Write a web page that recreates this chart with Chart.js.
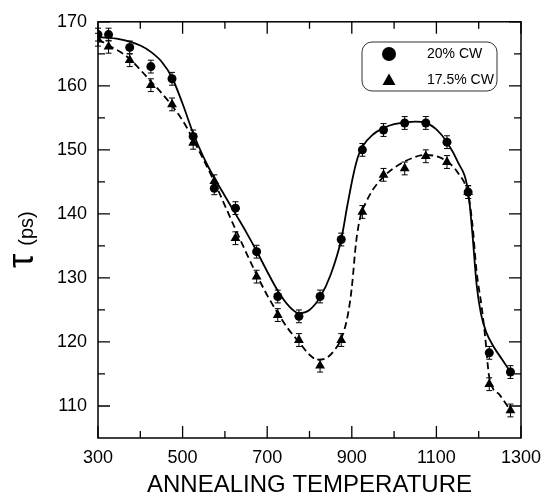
<!DOCTYPE html>
<html>
<head>
<meta charset="utf-8">
<script src="https://cdn.jsdelivr.net/npm/chart.js@4.4.1/dist/chart.umd.min.js"></script>
<style>
html,body{margin:0;padding:0;background:#fff;}
canvas{display:block;}
</style>
</head>
<body>
<canvas id="c" width="554" height="500"></canvas>
<script>
// ---- data ----
const temps = [300,325,375,425,475,525,575,625,675,725,775,825,875,925,975,1025,1075,1125,1175,1225,1275];
const cw20 = [168,168,166,163,161.1,152.1,144,140.9,134.1,127.1,124,127.1,136,150,153.1,154.2,154.2,151.2,143.4,118.3,115.3];
const cw175 = [167.2,166.1,164,160.1,157.1,151.1,145.1,136.2,130.2,124.2,120.3,116.3,120.3,140.3,146.1,147.1,149,148.1,143.4,113.4,109.3];
const err20 = [1,1,1,1,1,1,1,1,1,1,1,1,1,1,1,1,1,1,1,1,1];
const err175 = [1,1,1,1,1,1,1,1,1,1,1,1,1,1,1,1,1,1,1,1,1];

// fitted curves (knots)
const fit20T = [300,350,400,425,450,475,500,525,550,575,600,625,650,675,700,725,750,775,800,825,850,875,890,905,915,925,950,975,1000,1050,1075,1100,1125,1150,1175,1185,1195,1205,1218,1235,1255,1275];
const fit20V = [167.6,167.3,166.3,165.3,163.8,161.3,157.2,152.6,148.8,145.6,142.8,140,137.2,134.2,131,128,125.7,124.5,125,127,130.5,136,141.5,146.5,149,150.5,152.4,153.4,154,154.4,154.2,153.2,151.2,148.2,143.5,137,129,124.5,121.5,119.3,117.3,115.3];
const fit175T = [300,325,350,375,400,425,450,475,500,525,550,575,600,625,650,675,700,725,750,775,800,820,840,860,875,890,900,910,920,935,950,975,1000,1050,1075,1100,1125,1150,1175,1185,1195,1207,1215,1225,1250,1275];
const fit175V = [167.3,166.3,165.4,164.2,162.5,160.7,158.9,156.9,154.6,151.6,148.4,145,141.3,137.6,134,130.5,127.3,124.5,122,120,118,117.2,117.5,118.8,120.5,124,128.5,135.5,139.5,142,143.8,145.8,147.2,148.9,149.2,149,148.2,146.5,143,138.5,131,125.5,121,114.5,111.7,109.3];

const xTickLabels = [300,500,700,900,1100,1300];
const xMinorTicks = [400,600,800,1000,1200];
const yTickLabels = [110,120,130,140,150,160,170];
const yMinorTicks = [115,125,135,145,155,165];
const seriesNames = ['20% CW','17.5% CW'];
const xTitle = 'ANNEALING TEMPERATURE';
const yTitleSym = 'τ';
const yTitleUnit = '(ps)';

const FONT = "'Liberation Sans', Arial, sans-serif";
const toXY = (xs, ys) => xs.map((x, i) => ({x: x, y: ys[i]}));

const decor = {
  id: 'decor',
  afterDatasetsDraw(chart) {
    const ctx = chart.ctx, xs = chart.scales.x, ys = chart.scales.y;
    const a = chart.chartArea;
    ctx.save();
    ctx.strokeStyle = '#000';
    // error bars
    ctx.lineWidth = 1;
    const drawErr = (vals, errs) => {
      vals.forEach((v, i) => {
        const px = xs.getPixelForValue(temps[i]);
        const pt = ys.getPixelForValue(v + errs[i]);
        const pb = ys.getPixelForValue(v - errs[i]);
        ctx.beginPath();
        ctx.moveTo(px, pt); ctx.lineTo(px, pb);
        ctx.moveTo(px - 3, pt); ctx.lineTo(px + 3, pt);
        ctx.moveTo(px - 3, pb); ctx.lineTo(px + 3, pb);
        ctx.stroke();
      });
    };
    drawErr(cw20, err20);
    drawErr(cw175, err175);
    // frame
    ctx.lineWidth = 1.5;
    ctx.strokeRect(a.left, a.top, a.right - a.left, a.bottom - a.top);
    // ticks (inward)
    ctx.lineWidth = 1.3;
    const xt = (v, len) => {
      const p = xs.getPixelForValue(v);
      ctx.beginPath();
      ctx.moveTo(p, a.bottom); ctx.lineTo(p, a.bottom - len);
      ctx.moveTo(p, a.top); ctx.lineTo(p, a.top + len);
      ctx.stroke();
    };
    const yt = (v, len) => {
      const p = ys.getPixelForValue(v);
      ctx.beginPath();
      ctx.moveTo(a.left, p); ctx.lineTo(a.left + len, p);
      ctx.moveTo(a.right, p); ctx.lineTo(a.right - len, p);
      ctx.stroke();
    };
    xTickLabels.forEach(v => xt(v, 12));
    xMinorTicks.forEach(v => xt(v, 7));
    yTickLabels.forEach(v => yt(v, 12));
    yMinorTicks.forEach(v => yt(v, 7));
    ctx.restore();
  },
  afterDraw(chart) {
    const ctx = chart.ctx;
    ctx.save();
    // legend box
    const bx = 362, by = 42, bw = 135, bh = 49, r = 10;
    ctx.strokeStyle = '#333';
    ctx.lineWidth = 1;
    ctx.beginPath();
    ctx.moveTo(bx + r, by);
    ctx.lineTo(bx + bw - r, by);
    ctx.arcTo(bx + bw, by, bx + bw, by + r, r);
    ctx.lineTo(bx + bw, by + bh - r);
    ctx.arcTo(bx + bw, by + bh, bx + bw - r, by + bh, r);
    ctx.lineTo(bx + r, by + bh);
    ctx.arcTo(bx, by + bh, bx, by + bh - r, r);
    ctx.lineTo(bx, by + r);
    ctx.arcTo(bx, by, bx + r, by, r);
    ctx.closePath();
    ctx.stroke();
    ctx.fillStyle = '#000';
    ctx.beginPath();
    ctx.arc(389, 54, 7, 0, Math.PI * 2);
    ctx.fill();
    ctx.beginPath();
    ctx.moveTo(389, 73.5);
    ctx.lineTo(395.5, 85);
    ctx.lineTo(382.5, 85);
    ctx.closePath();
    ctx.fill();
    ctx.font = '14px ' + FONT;
    ctx.textAlign = 'left';
    ctx.textBaseline = 'middle';
    ctx.fillText(seriesNames[0], 427, 54);
    ctx.fillText(seriesNames[1], 427, 80);
    // y title, rotated
    ctx.translate(33, 268);
    ctx.rotate(-Math.PI / 2);
    ctx.textBaseline = 'alphabetic';
    ctx.font = '36px ' + FONT;
    ctx.fillText(yTitleSym, 0, 0);
    const w = ctx.measureText(yTitleSym).width;
    ctx.font = '20px ' + FONT;
    ctx.fillText(yTitleUnit, w + 8, 0);
    ctx.restore();
  }
};

new Chart(document.getElementById('c'), {
  type: 'scatter',
  data: {
    datasets: [
      {
        label: seriesNames[0] + ' fit',
        data: toXY(fit20T, fit20V),
        showLine: true, borderColor: '#000', borderWidth: 1.8,
        pointRadius: 0, cubicInterpolationMode: 'monotone', fill: false
      },
      {
        label: seriesNames[1] + ' fit',
        data: toXY(fit175T, fit175V),
        showLine: true, borderColor: '#000', borderWidth: 1.8, borderDash: [7, 4],
        pointRadius: 0, cubicInterpolationMode: 'monotone', fill: false
      },
      {
        label: seriesNames[0],
        data: toXY(temps, cw20),
        showLine: false, pointStyle: 'circle', pointRadius: 4.5,
        backgroundColor: '#000', borderColor: '#000', borderWidth: 0
      },
      {
        label: seriesNames[1],
        data: toXY(temps, cw175),
        showLine: false, pointStyle: 'triangle', pointRadius: 5.7,
        backgroundColor: '#000', borderColor: '#000', borderWidth: 0
      }
    ]
  },
  options: {
    responsive: false,
    animation: false,
    devicePixelRatio: 1,
    layout: { padding: { top: 17, right: 33, left: 0, bottom: 0 } },
    plugins: { legend: { display: false }, tooltip: { enabled: false } },
    scales: {
      x: {
        type: 'linear', min: 300, max: 1300,
        afterBuildTicks: s => { s.ticks = xTickLabels.map(v => ({value: v})); },
        afterFit: s => { s.height = 62; },
        grid: { display: false, drawTicks: false },
        border: { display: false },
        ticks: { color: '#000', font: { size: 18, family: FONT }, padding: 9, maxRotation: 0, autoSkip: false, callback: v => String(v) },
        title: { display: true, text: xTitle, color: '#000', font: { size: 24, family: FONT }, padding: 0 }
      },
      y: {
        type: 'linear', min: 105, max: 170,
        afterBuildTicks: s => { s.ticks = yTickLabels.map(v => ({value: v})); },
        afterFit: s => { s.width = 98; },
        grid: { display: false, drawTicks: false },
        border: { display: false },
        ticks: { color: '#000', font: { size: 18, family: FONT }, padding: 11, autoSkip: false, callback: v => String(v) }
      }
    }
  },
  plugins: [decor]
});
</script>
</body>
</html>
